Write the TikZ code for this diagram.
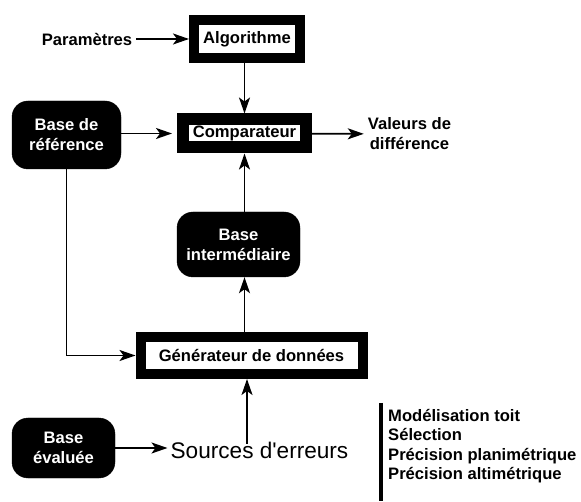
\documentclass[tikz,border=0pt]{standalone}
\usepackage{fontspec}
\setmainfont{Liberation Sans}
\newfontfamily\plainfont{Liberation Sans}
\usetikzlibrary{arrows.meta,positioning,calc}

\begin{document}
\begin{tikzpicture}[x=1pt,y=-1pt,>={Stealth[length=16pt,width=11pt,inset=4pt]},
 font=\fontsize{16.6}{20}\selectfont\bfseries,
 frame/.style={draw=black,fill=white,line width=10pt,inner sep=0pt},
 base/.style={draw=black,fill=black,text=white,rounded corners=16pt,align=center,inner sep=0pt},
 flow/.style={->,line width=1.8pt}]
\useasboundingbox (0,0) rectangle (581,502);
% blocs encadres
\node[frame,minimum width=106pt,minimum height=38pt] (algo) at (247,39) {Algorithme};
\node[frame,line width=12pt,minimum width=123pt,minimum height=28pt] (comp) at (244.5,133.5) {Comparateur};
\node[frame,minimum width=222pt,minimum height=37pt] (gen) at (251.5,355.5) {Générateur de données};
% bases
\node[base,minimum width=109pt,minimum height=68pt] (ref) at (66.5,135) {Base de\\référence};
\node[base,minimum width=123pt,minimum height=65pt] (inter) at (238.5,244.5) {Base\\intermédiaire};
\node[base,minimum width=103pt,minimum height=60pt] (eval) at (63.5,448) {Base\\évaluée};
% textes libres
\node[inner sep=4pt] (param) at (87,39) {Paramètres};
\node[align=center,inner sep=4pt] (val) at (409.5,134) {Valeurs de\\différence};
\node[font=\fontsize{22.6}{26}\selectfont\plainfont\mdseries,inner sep=3pt] (src) at (259.5,450) {Sources d'erreurs};
\node[anchor=north west,align=left,inner sep=0pt,font=\fontsize{16.6}{19.5}\selectfont\bfseries] (list) at (388,409) {Modélisation toit\\Sélection\\Précision planimétrique\\Précision altimétrique};
\draw[line width=4pt] (381,403) -- (381,501);
% fleches
\draw[flow] (param) -- (algo);
\draw[flow] (algo.south -| comp) -- (comp.north);
\draw[flow] (ref.east |- comp) -- ([xshift=-5pt]comp.west);
\draw[flow] (comp) -- (val);
\draw[flow] (inter.north -| comp) -- (comp.south);
\draw[flow] (gen.north -| comp) -- (inter.south -| comp);
\draw[flow] (ref.south) |- (gen.west);
\draw[flow,shorten <=-5pt] ([xshift=-12.5pt]src.north) -- ([xshift=-12.5pt]src.north |- gen.south);
\draw[flow] (eval.east) -- (eval.east -| src.west);
\end{tikzpicture}
\end{document}
